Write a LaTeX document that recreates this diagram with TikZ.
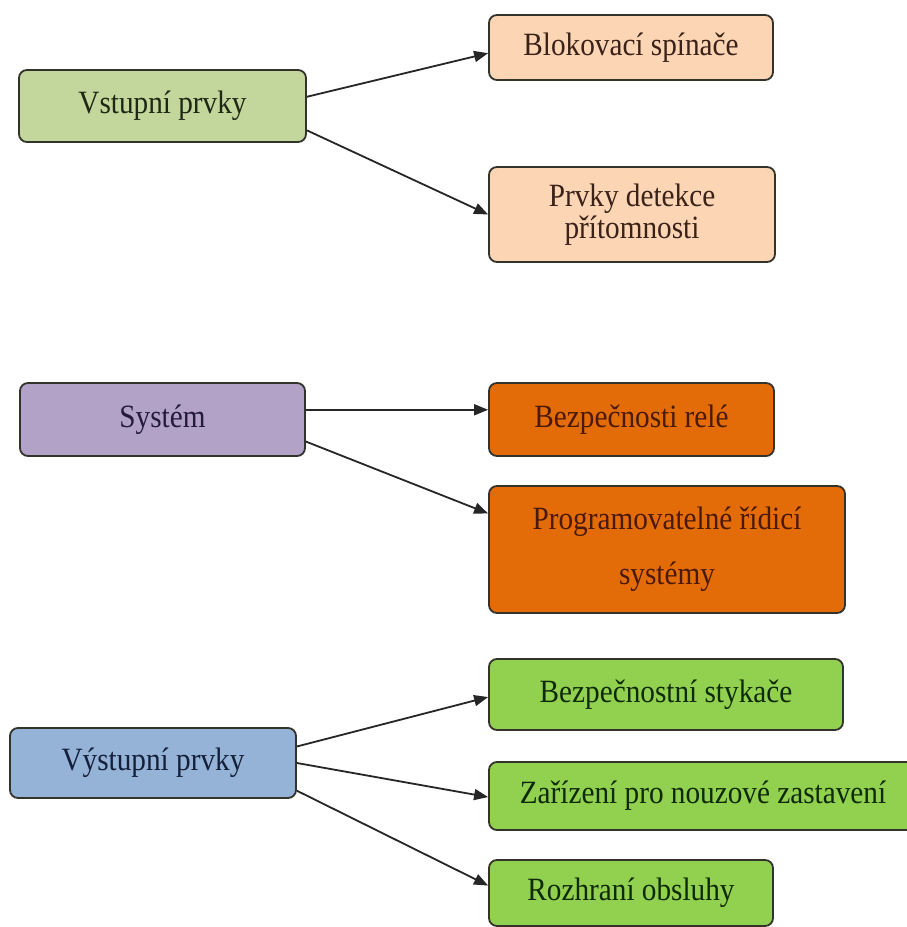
\documentclass[tikz,border=0pt]{standalone}
\usepackage{fontspec}
\setmainfont{Liberation Serif}[FakeStretch=0.9]
\usetikzlibrary{arrows.meta,calc}
\definecolor{boxline}{HTML}{33332C}
\definecolor{olivefill}{HTML}{C3D69B}
\definecolor{peachfill}{HTML}{FCD5B5}
\definecolor{purplefill}{HTML}{B2A2C7}
\definecolor{orangefill}{HTML}{E36C09}
\definecolor{bluefill}{HTML}{95B3D7}
\definecolor{greenfill}{HTML}{92D050}
\definecolor{txtolive}{HTML}{1E2814}
\definecolor{txtbrown}{HTML}{3A2218}
\definecolor{txtpurple}{HTML}{241A3A}
\definecolor{txtorange}{HTML}{4A1A06}
\definecolor{txtblue}{HTML}{14203A}
\definecolor{txtgreen}{HTML}{0E2A06}
\begin{document}
\begin{tikzpicture}[x=1pt,y=-1pt,
  box/.style={draw=boxline, line width=1.8pt, rounded corners=8pt, inner sep=0pt,
    font=\fontsize{32.5}{39}\selectfont, align=center},
  arr/.style={-{Triangle[length=14pt,width=11pt]}, line width=1.8pt, draw=black!85, fill=black!85}]
\useasboundingbox[fill=white] (0,0) rectangle (907,927);

% input group
\node[box, fill=olivefill, text=txtolive, minimum width=287pt, minimum height=72pt] (vst) at (162.5,106) {Vstupní prvky};
\node[box, fill=peachfill, text=txtbrown, minimum width=284pt, minimum height=65pt] (blo) at (631,47.5) {Blokovací spínače};
\node[box, fill=peachfill, text=txtbrown, minimum width=286pt, minimum height=95pt,
  font=\fontsize{32.5}{32}\selectfont] (det) at (632,214.5) {Prvky detekce\\přítomnosti};

% system group
\node[box, fill=purplefill, text=txtpurple, minimum width=285pt, minimum height=73pt] (sys) at (162.5,419.5) {Systém};
\node[box, fill=orangefill, text=txtorange, minimum width=285pt, minimum height=73pt] (rel) at (631.5,419.5) {Bezpečnosti relé};
\node[box, fill=orangefill, text=txtorange, minimum width=356pt, minimum height=127pt,
  font=\fontsize{32.5}{55}\selectfont] (prg) at (667,549.5) {Programovatelné řídicí\\systémy};

% output group
\node[box, fill=bluefill, text=txtblue, minimum width=286pt, minimum height=70pt] (vys) at (153,763) {Výstupní prvky};
\node[box, fill=greenfill, text=txtgreen, minimum width=354pt, minimum height=71pt] (sty) at (666,694.5) {Bezpečnostní stykače};
\node[box, fill=greenfill, text=txtgreen, minimum width=428pt, minimum height=68pt] (zar) at (703,796) {Zařízení pro nouzové zastavení};
\node[box, fill=greenfill, text=txtgreen, minimum width=284pt, minimum height=66pt] (roz) at (631,893) {Rozhraní obsluhy};

% connectors
\draw[arr] ($(vst.north east)!0.375!(vst.south east)$) -- ($(blo.north west)!0.585!(blo.south west)$);
\draw[arr] ($(vst.north east)!0.83!(vst.south east)$) -- ($(det.north west)!0.5!(det.south west)$);
\draw[arr] ($(sys.north east)!0.37!(sys.south east)$) -- ($(rel.north west)!0.37!(rel.south west)$);
\draw[arr] ($(sys.north east)!0.795!(sys.south east)$) -- ($(prg.north west)!0.22!(prg.south west)$);
\draw[arr] ($(vys.north east)!0.27!(vys.south east)$) -- ($(sty.north west)!0.535!(sty.south west)$);
\draw[arr] ($(vys.north east)!0.5!(vys.south east)$) -- ($(zar.north west)!0.515!(zar.south west)$);
\draw[arr] ($(vys.north east)!0.886!(vys.south east)$) -- ($(roz.north west)!0.39!(roz.south west)$);
\end{tikzpicture}
\end{document}
